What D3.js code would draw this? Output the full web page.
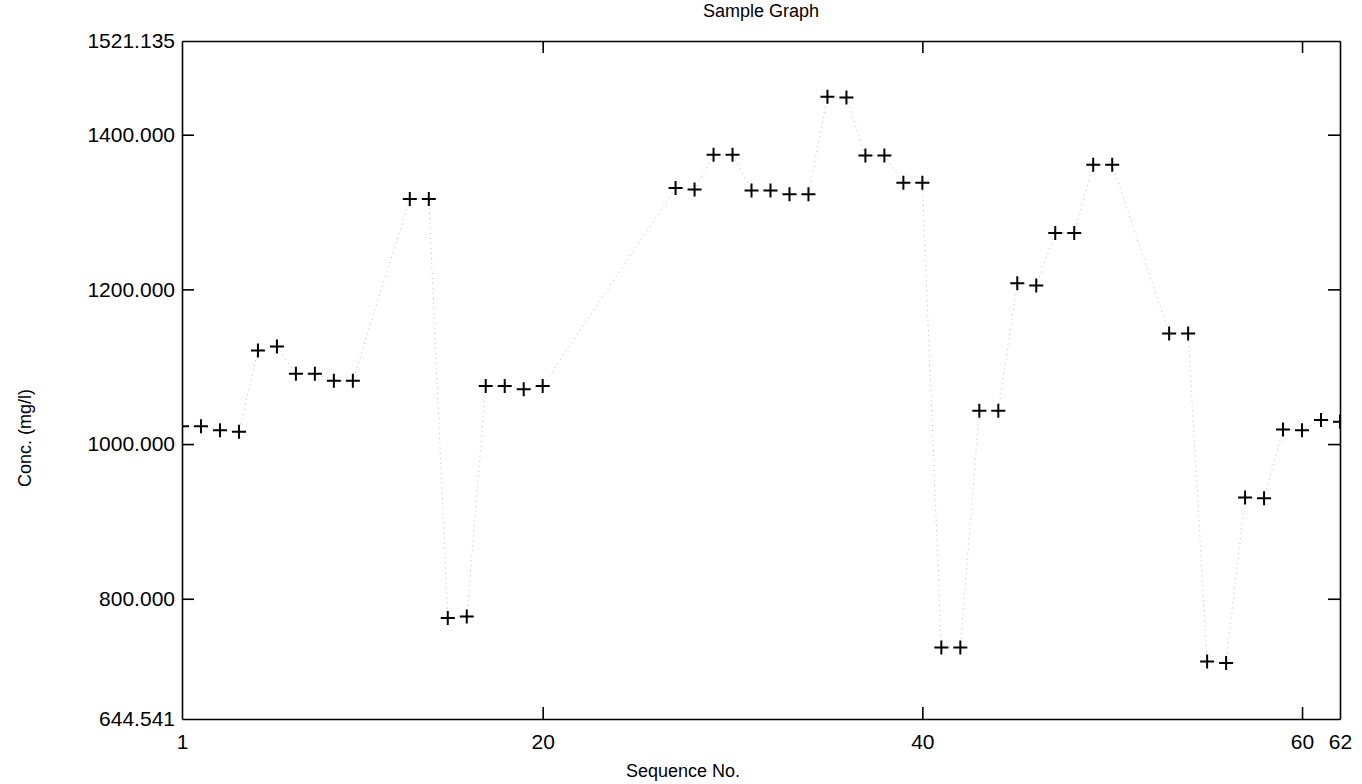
<!DOCTYPE html>
<html>
<head>
<meta charset="utf-8">
<script src="https://cdn.jsdelivr.net/npm/d3@7"></script>
<style>
  body { margin: 0; background: #fff; }
  text { font-family: "Liberation Sans", Arial, sans-serif; fill: #000; }
</style>
</head>
<body>
<div id="chart-area"></div>
<script>
// sequence numbers that have a reading (11-12, 21-26, 51-52 missing)
const seqNo = [1, 2, 3, 4, 5, 6, 7, 8, 9, 10, 13, 14, 15, 16, 17, 18, 19, 20,
  27, 28, 29, 30, 31, 32, 33, 34, 35, 36, 37, 38, 39, 40,
  41, 42, 43, 44, 45, 46, 47, 48, 49, 50,
  53, 54, 55, 56, 57, 58, 59, 60, 61, 62]
// concentration readings (mg/l)
const conc = [1023, 1023, 1018, 1016, 1121, 1126, 1091, 1091, 1082, 1082,
  1317, 1317, 775, 777, 1075, 1075, 1071, 1075,
  1331, 1329, 1374, 1374, 1328, 1328, 1323, 1323, 1449, 1448, 1373, 1373, 1338, 1338,
  737, 737, 1043, 1043, 1208, 1205, 1273, 1273, 1361, 1361,
  1143, 1143, 719, 717, 931, 930, 1019, 1018, 1031, 1029]

const xTicks = [1, 20, 40, 60, 62]
const yTicks = [644.541, 800, 1000, 1200, 1400, 1521.135]
const xDomain = [1, 62]
const yDomain = [644.541, 1521.135]

const MARGIN = { LEFT: 182, RIGHT: 22, TOP: 41, BOTTOM: 65 }
const WIDTH = 1362 - MARGIN.LEFT - MARGIN.RIGHT
const HEIGHT = 784 - MARGIN.TOP - MARGIN.BOTTOM

const data = seqNo.map((s, i) => ({ seq: s, value: conc[i] }))

const svg = d3.select("#chart-area").append("svg")
  .attr("width", 1362)
  .attr("height", 784)

const g = svg.append("g")
  .attr("transform", `translate(${MARGIN.LEFT}, ${MARGIN.TOP})`)

// scales
const x = d3.scaleLinear().domain(xDomain).range([0, WIDTH])
const y = d3.scaleLinear().domain(yDomain).range([HEIGHT, 0])

// clip to the plot frame
svg.append("defs").append("clipPath")
  .attr("id", "plot-clip")
  .append("rect")
  .attr("width", WIDTH)
  .attr("height", HEIGHT)

const plot = g.append("g").attr("clip-path", "url(#plot-clip)")

// faint dotted joining line
const line = d3.line()
  .x(d => x(d.seq))
  .y(d => y(d.value))

plot.append("path")
  .attr("fill", "none")
  .attr("stroke", "#bbb")
  .attr("stroke-width", 1)
  .attr("stroke-dasharray", "1,4")
  .attr("d", line(data))

// plus markers
plot.selectAll(".mark")
  .data(data)
  .enter().append("path")
  .attr("class", "mark")
  .attr("transform", d => `translate(${x(d.seq)}, ${y(d.value)})`)
  .attr("d", "M-7,0H7M0,-7V7")
  .attr("stroke", "#000")
  .attr("stroke-width", 2)

// axes, ticks pointing inward
const fmt = d3.format(".3f")
const TICK = -12

const yAxisL = g.append("g")
  .call(d3.axisLeft(y).tickValues(yTicks).tickFormat(fmt)
    .tickSizeInner(TICK).tickSizeOuter(0).tickPadding(7))
const yAxisR = g.append("g")
  .attr("transform", `translate(${WIDTH}, 0)`)
  .call(d3.axisRight(y).tickValues(yTicks.slice(1, -1)).tickFormat("")
    .tickSizeInner(TICK).tickSizeOuter(0))
const xAxisB = g.append("g")
  .attr("transform", `translate(0, ${HEIGHT})`)
  .call(d3.axisBottom(x).tickValues(xTicks).tickFormat(d3.format("d"))
    .tickSizeInner(TICK).tickSizeOuter(0).tickPadding(15))
const xAxisT = g.append("g")
  .call(d3.axisTop(x).tickValues(xTicks.slice(1, -1)).tickFormat("")
    .tickSizeInner(TICK).tickSizeOuter(0))

// remove corner ticks on the labelled axes
yAxisL.selectAll(".tick line").filter(d => d === yDomain[0] || d === yDomain[1]).remove()
xAxisB.selectAll(".tick line").filter(d => d === xDomain[0] || d === xDomain[1]).remove()

g.selectAll(".domain, .tick line")
  .attr("stroke", "#000")
  .attr("stroke-width", 1.6)
g.selectAll(".tick text")
  .attr("font-size", "21px")
  .attr("font-family", "'Liberation Sans', Arial, sans-serif")
  .attr("fill", "#000")

// labels
svg.append("text")
  .attr("x", 761)
  .attr("y", 17)
  .attr("font-size", "18px")
  .attr("text-anchor", "middle")
  .text("Sample Graph")

svg.append("text")
  .attr("x", 683)
  .attr("y", 777)
  .attr("font-size", "18px")
  .attr("text-anchor", "middle")
  .text("Sequence No.")

svg.append("text")
  .attr("transform", "rotate(-90)")
  .attr("x", -438)
  .attr("y", 31)
  .attr("font-size", "18px")
  .attr("text-anchor", "middle")
  .text("Conc. (mg/l)")
</script>
</body>
</html>
